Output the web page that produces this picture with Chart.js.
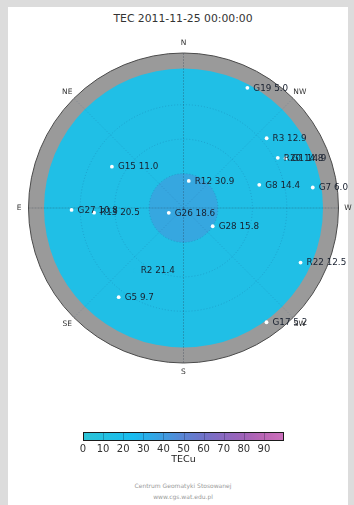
<!DOCTYPE html>
<html>
<head>
<meta charset="utf-8">
<script src="https://cdn.jsdelivr.net/npm/chart.js@4.4.1/dist/chart.umd.min.js"></script>
<style>
  html, body { margin: 0; padding: 0; width: 354px; height: 505px; overflow: hidden;
               background: #dcdcdc; font-family: "DejaVu Sans", sans-serif; }
  #panel { position: absolute; left: 8px; top: 7px; width: 340px; height: 498px; background: #fff; }
  #title { position: absolute; left: 0; top: 12px; width: 366px; text-align: center;
           font-size: 10.8px; color: #333; line-height: 13px; }
  #sky { position: absolute; left: 0; top: 0; }
  #bar { position: absolute; left: 0; top: 420px; }
  #footer { position: absolute; left: 0; top: 480px; width: 366px; text-align: center;
            font-size: 6px; line-height: 11px; color: #9a9a9a; }
</style>
</head>
<body>
<div id="panel"></div>
<div id="title">TEC 2011-11-25 00:00:00</div>
<canvas id="sky" width="354" height="400"></canvas>
<canvas id="bar" width="354" height="60"></canvas>
<div id="footer">Centrum Geomatyki Stosowanej<br>www.cgs.wat.edu.pl</div>
<script>
// Satellites in view: name, azimuth (deg from N, through E), elevation (deg), TEC (TECu)
const satNames     = ['G19', 'R3', 'R20', 'G1', 'G15', 'R12', 'G8', 'G7', 'G27', 'R13', 'G26', 'G28', 'R22', 'R2', 'G5', 'G17'];
const satAzimuth   = [332, 310, 298, 296, 60, 349, 287, 279, 91, 93, 108, 238, 245, 142, 144, 216];
const satElevation = [11, 27, 28, 24, 42, 74, 44, 14, 25, 38, 81, 70, 15, 44, 26, 8];
const satTec       = [5.0, 12.9, 14.8, 14.9, 11.0, 30.9, 14.4, 6.0, 10.8, 20.5, 18.6, 15.8, 12.5, 21.4, 9.7, 5.2];
// satellites whose marker blends into the map
const unmarkedSats = ['R2'];

// Sky plot geometry (zenith distance in degrees)
const elevationMask = 9;
const zenithRings   = [20, 40, 60];
const compassDirs   = ['N', 'NE', 'E', 'SE', 'S', 'SW', 'W', 'NW'];
const compassAz     = [0, 45, 90, 135, 180, 225, 270, 315];
const zenithPatchTec = 45;   // TEC level around the zenith
const zenithPatchRadius = 20;
const backgroundTec = 15;

// Colour scale
const colorbarTicks = [0, 10, 20, 30, 40, 50, 60, 70, 80, 90];
const cmapStops  = [0, 25, 40, 50, 60, 70, 80, 90, 100];
const cmapColors = [[44, 196, 214], [24, 188, 240], [62, 156, 224], [90, 132, 212], [112, 114, 200],
                    [138, 104, 192], [160, 98, 184], [187, 102, 180], [204, 112, 188]];

function tecColor(v, alpha) {
  let i = 0;
  while (i < cmapStops.length - 2 && v > cmapStops[i + 1]) i++;
  const t = Math.max(0, Math.min(1, (v - cmapStops[i]) / (cmapStops[i + 1] - cmapStops[i])));
  const a = cmapColors[i], b = cmapColors[i + 1];
  const c = a.map((x, k) => Math.round(x + (b[k] - x) * t));
  return `rgba(${c[0]},${c[1]},${c[2]},${alpha === undefined ? 1 : alpha})`;
}

// Polar (az, el) -> plane coordinates, north up, east to the left
const toRad = Math.PI / 180;
const skyPoints = satNames.map((n, i) => {
  const z = 90 - satElevation[i];
  return { x: -z * Math.sin(satAzimuth[i] * toRad), y: z * Math.cos(satAzimuth[i] * toRad) };
});

const skyPlot = {
  id: 'skyPlot',
  beforeDatasetsDraw(chart) {
    const { ctx, scales: { x, y } } = chart;
    const cx = x.getPixelForValue(0), cy = y.getPixelForValue(0);
    const px = d => x.getPixelForValue(d) - cx;
    ctx.save();
    // below-mask ring
    ctx.beginPath(); ctx.arc(cx, cy, px(90), 0, 2 * Math.PI);
    ctx.fillStyle = '#9a9a9a'; ctx.fill();
    ctx.lineWidth = 1; ctx.strokeStyle = '#4a4a4a'; ctx.stroke();
    // TEC map above the mask
    ctx.beginPath(); ctx.arc(cx, cy, px(90 - elevationMask), 0, 2 * Math.PI);
    ctx.fillStyle = tecColor(backgroundTec); ctx.fill();
    ctx.beginPath(); ctx.arc(cx, cy, px(zenithPatchRadius), 0, 2 * Math.PI);
    ctx.fillStyle = tecColor(zenithPatchTec, 0.5); ctx.fill();
    // elevation rings
    ctx.setLineDash([1, 2]);
    ctx.lineWidth = 1;
    ctx.strokeStyle = 'rgba(20,60,120,0.2)';
    zenithRings.forEach(r => { ctx.beginPath(); ctx.arc(cx, cy, px(r), 0, 2 * Math.PI); ctx.stroke(); });
    // azimuth spokes
    compassAz.forEach(az => {
      const main = az % 90 === 0;
      ctx.strokeStyle = main ? 'rgba(40,50,70,0.4)' : 'rgba(20,60,120,0.2)';
      ctx.setLineDash(main ? [2, 1] : [1, 2]);
      ctx.lineWidth = main ? 0.7 : 1;
      ctx.beginPath();
      ctx.moveTo(cx, cy);
      ctx.lineTo(x.getPixelForValue(-90 * Math.sin(az * toRad)), y.getPixelForValue(90 * Math.cos(az * toRad)));
      ctx.stroke();
    });
    ctx.restore();
  },
  afterDatasetsDraw(chart) {
    const { ctx, scales: { x, y } } = chart;
    const meta = chart.getDatasetMeta(0);
    ctx.save();
    ctx.font = '8.8px "DejaVu Sans"';
    ctx.fillStyle = '#18202f';
    ctx.textAlign = 'left'; ctx.textBaseline = 'middle';
    meta.data.forEach((pt, i) => {
      ctx.fillText(satNames[i] + ' ' + satTec[i].toFixed(1), pt.x + 6, pt.y + 0.5);
    });
    // compass labels
    ctx.font = '7.5px "DejaVu Sans"';
    ctx.fillStyle = '#333';
    ctx.textAlign = 'center';
    compassDirs.forEach((d, i) => {
      const az = compassAz[i] * toRad;
      ctx.fillText(d, x.getPixelForValue(-95.5 * Math.sin(az)), y.getPixelForValue(95.5 * Math.cos(az)));
    });
    ctx.restore();
  }
};

new Chart(document.getElementById('sky'), {
  type: 'scatter',
  data: {
    datasets: [{
      data: skyPoints,
      pointStyle: 'circle',
      pointRadius: 1.9,
      pointBorderWidth: 0,
      pointBackgroundColor: satNames.map((n, i) => unmarkedSats.includes(n) ? tecColor(backgroundTec) : '#ffffff'),
      clip: false
    }]
  },
  options: {
    responsive: false,
    animation: false,
    devicePixelRatio: 1,
    layout: { padding: { left: 28.5, top: 53, right: 15.5, bottom: 37 } },
    scales: {
      x: { type: 'linear', min: -90, max: 90, display: false },
      y: { type: 'linear', min: -90, max: 90, display: false }
    },
    plugins: { legend: { display: false }, tooltip: { enabled: false } }
  },
  plugins: [skyPlot]
});

// Colour bar
const colorbarFill = {
  id: 'colorbarFill',
  beforeDraw(chart) {
    const { ctx, chartArea: a, scales: { x } } = chart;
    const g = ctx.createLinearGradient(a.left, 0, a.right, 0);
    for (let v = 0; v <= 100; v += 5) g.addColorStop(v / 100, tecColor(v));
    ctx.save();
    ctx.fillStyle = g;
    ctx.fillRect(a.left, a.top, a.right - a.left, a.bottom - a.top);
    ctx.strokeStyle = 'rgba(20,30,60,0.3)'; ctx.lineWidth = 1;
    colorbarTicks.slice(1).forEach(v => {
      const p = Math.round(x.getPixelForValue(v)) + 0.5;
      ctx.beginPath(); ctx.moveTo(p, a.top); ctx.lineTo(p, a.bottom); ctx.stroke();
    });
    ctx.strokeStyle = '#1a1a1a';
    ctx.strokeRect(a.left + 0.5, a.top + 0.5, a.right - a.left - 1, a.bottom - a.top - 1);
    ctx.restore();
  }
};

new Chart(document.getElementById('bar'), {
  type: 'scatter',
  data: { datasets: [] },
  options: {
    responsive: false,
    animation: false,
    devicePixelRatio: 1,
    layout: { padding: { left: 83, right: 70, top: 12, bottom: 13 } },
    scales: {
      x: {
        type: 'linear', min: 0, max: 100, position: 'bottom',
        grid: { display: false, drawTicks: false }, border: { display: false },
        afterBuildTicks: s => { s.ticks = colorbarTicks.map(v => ({ value: v })); },
        afterFit: s => { s.height = 26; },
        ticks: { color: '#333', font: { family: 'DejaVu Sans', size: 10 }, padding: 2, maxRotation: 0, autoSkip: false },
        title: { display: true, text: 'TECu', color: '#222', font: { family: 'DejaVu Sans', size: 9.5 }, padding: { top: 0, bottom: 2 } }
      },
      y: { min: 0, max: 1, display: false }
    },
    plugins: { legend: { display: false }, tooltip: { enabled: false } }
  },
  plugins: [colorbarFill]
});
</script>
</body>
</html>
